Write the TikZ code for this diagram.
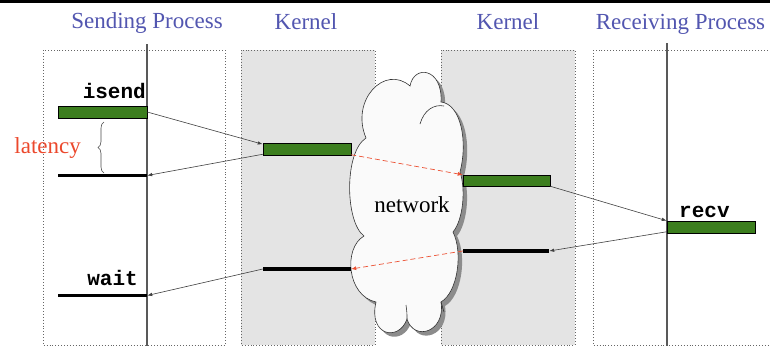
\documentclass[tikz,border=0pt]{standalone}
\usepackage{fontspec}
\setmainfont{Liberation Serif}
\setmonofont{Liberation Mono}
\usetikzlibrary{arrows.meta,decorations.pathreplacing}
\definecolor{titleblue}{RGB}{82,86,176}
\definecolor{latred}{RGB}{236,72,44}
\definecolor{netred}{RGB}{236,82,52}
\definecolor{bargreen}{RGB}{60,126,30}
\definecolor{kgray}{RGB}{228,228,228}
\def\netcloud{(366,138) .. controls (350,100) and (385,64) .. (410,86)
  .. controls (414,64) and (443,68) .. (441,102)
  .. controls (461,104) and (468,142) .. (460,172)
  .. controls (466,190) and (463,220) .. (453,232)
  .. controls (463,252) and (458,292) .. (441,302)
  .. controls (446,332) and (414,342) .. (407,319)
  .. controls (399,342) and (368,336) .. (376,302)
  .. controls (347,296) and (343,248) .. (364,236)
  .. controls (345,222) and (344,152) .. (366,138) -- cycle}
\begin{document}
\begin{tikzpicture}[x=1pt,y=-1pt,
  titletext/.style={text=titleblue, font=\fontsize{23}{26}\selectfont, anchor=base, inner sep=0},
  procbox/.style={draw=black!60, dotted, line width=0.9pt},
  kbox/.style={procbox, fill=kgray},
  gbar/.style={draw=black, line width=0.5pt, fill=bargreen, minimum width=89pt, minimum height=12pt, inner sep=0},
  bbar/.style={fill=black, minimum width=89pt, minimum height=3.2pt, inner sep=0},
  msg/.style={draw=black!75, line width=0.6pt, -{Latex[length=5pt,width=3.5pt]}},
  netmsg/.style={draw=netred, dash pattern=on 5pt off 3pt, line width=0.7pt, -{Latex[length=5pt,width=4pt]}},
  timeline/.style={draw=black!65, line width=1.1pt},
  call/.style={font=\fontsize{21}{24}\selectfont\ttfamily\bfseries, inner sep=0},
  cloudline/.style={draw=black!80, line width=0.6pt},
]
\useasboundingbox (0,0) rectangle (770,346);
\clip (0,0) rectangle (770,346);
\fill[white] (0,0) rectangle (770,346);
\fill[black] (0,0) rectangle (770,3);

% boxes
\draw[procbox] (43,50) rectangle (225,345);
\draw[kbox] (241,50) rectangle (375,345);
\draw[kbox] (441,50) rectangle (575,345);
\draw[procbox] (593,50) rectangle (800,345);

% timelines
\draw[timeline] (147,44) -- (147,346);
\draw[timeline] (667,43) -- (667,346);

% titles
\node[titletext] (tsend) at (147,28) {Sending Process};
\node[titletext] (tk1) at (306,29) {Kernel};
\node[titletext] (tk2) at (508,29) {Kernel};
\node[titletext] (trecv) at (680.5,29) {Receiving Process};

% network cloud
\begin{scope}[shift={(4,4)}]
  \fill[black!45] \netcloud;
\end{scope}
\filldraw[cloudline, fill=black!2] \netcloud;
\draw[cloudline] (420,124) .. controls (424,110) and (434,104) .. (444,106);
\draw[cloudline] (407,319) .. controls (407,313) .. (406,305);
\draw[cloudline] (441,302) .. controls (442,307) .. (444,312);
\node[anchor=base, font=\fontsize{23}{26}\selectfont, inner sep=0] (nettext) at (412,212) {network};

% bars
\node[gbar] (isendbar) at (102.5,112) {};
\node[bbar] (sb1) at (102.5,175.5) {};
\node[bbar] (waitbar) at (102.5,295.5) {};
\node[gbar, minimum width=88pt] (k1g) at (307,149.5) {};
\node[bbar, minimum width=88pt] (k1b) at (307,269) {};
\node[gbar, minimum width=87pt, minimum height=11pt] (k2g) at (506.5,180.5) {};
\node[bbar, minimum width=86pt] (k2b) at (506,251) {};
\node[gbar, minimum width=88pt] (recvbar) at (711,227) {};

% labels
\node[call, anchor=base east] (lisend) at (146,98) {isend};
\node[call, anchor=base east] (lwait) at (138,285) {wait};
\node[call, anchor=base west] (lrecv) at (679,217) {recv};
\node[anchor=base east, text=latred, font=\fontsize{23}{26}\selectfont, inner sep=0] (lat) at (81,153) {latency};

% latency brace
\draw[black!70, line width=0.6pt, decorate, decoration={brace, amplitude=6pt}] (104,173) -- (104,122);

% messages
\draw[msg] (isendbar.east) -- ([yshift=-1pt]k1g.north west);
\draw[msg] ([yshift=1.5pt]k1g.south west) -- (sb1.east);
\draw[netmsg] ([yshift=1pt]k1g.south east) -- (k2g.north west);
\draw[msg] (k2g.south east) -- (recvbar.north west);
\draw[msg] ([yshift=1.5pt]recvbar.south west) -- (k2b.east);
\draw[netmsg] (k2b.west) -- (k1b.east);
\draw[msg] (k1b.west) -- (waitbar.east);
\end{tikzpicture}
\end{document}
